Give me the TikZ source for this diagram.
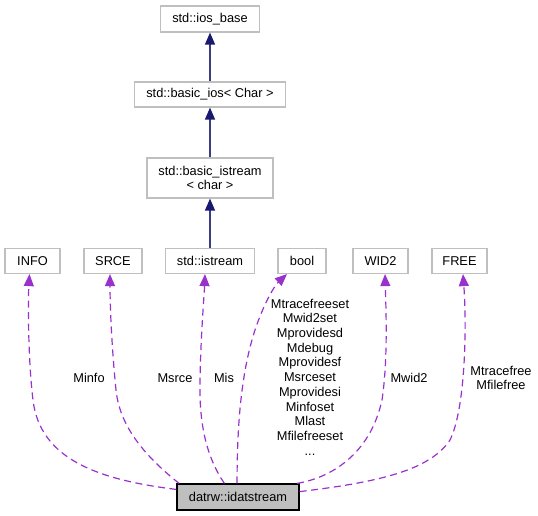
\documentclass[tikz,border=0pt]{standalone}
\usepackage{fontspec}
\setmainfont{Liberation Sans}
\usepackage{tikz}
\usetikzlibrary{arrows.meta}

\definecolor{boxgray}{RGB}{191,191,191}
\definecolor{navyline}{RGB}{25,25,112}
\definecolor{orchid}{RGB}{153,50,205}

\begin{document}
\begin{tikzpicture}[x=1pt,y=-1pt,
	font=\fontsize{12.8}{14.7}\selectfont,
	classbox/.style={draw=boxgray,line width=1.2pt,inner sep=0pt,minimum height=25pt,align=center},
	mainbox/.style={draw=black,fill=boxgray,line width=1.2pt,inner sep=0pt,minimum width=122pt,minimum height=26pt},
	inherit/.style={draw=navyline!85,line width=1.3pt,-{Triangle[length=12pt,width=10pt,color=navyline,fill=navyline]}},
	member/.style={draw=orchid,line width=1.2pt,dash pattern=on 7pt off 4.5pt,-{Triangle[length=12pt,width=10pt,fill=orchid]}}]
	\useasboundingbox (0,0) rectangle (538,516);
	\begin{scope}[every node/.style={classbox}]
		\node (iosbase) at (210,19) [minimum width=99pt,minimum height=26pt] {std::ios\_base};
		\node (basicios) at (210,94.5) [minimum width=151pt] {std::basic\_ios< Char >};
		\node (basicistream) at (210,178) [minimum width=126pt,minimum height=40pt] {std::basic\_istream\\< char >};
		\node (info) at (32.5,261) [minimum width=55pt] {INFO};
		\node (srce) at (113,261) [minimum width=58pt] {SRCE};
		\node (istream) at (210,261) [minimum width=89pt] {std::istream};
		\node (bool) at (302,261) [minimum width=48pt] {bool};
		\node (wid2) at (380.5,261) [minimum width=55pt] {WID2};
		\node (free) at (459.5,261) [minimum width=55pt] {FREE};
	\end{scope}
	\node[mainbox] (main) at (238,497) {datrw::idatstream};

	\begin{scope}[every edge/.style={inherit}]
		\path (basicios) edge (iosbase);
		\path (basicistream) edge (basicios);
		\path (istream) edge (basicistream);
	\end{scope}

	\begin{scope}[every path/.style={member}]
		\path (main.173) .. controls (100,480) and (40,460) .. (33,400)
			.. controls (28,360) and (28,300) .. ([xshift=-3pt]info.south);
		\path (main.167) .. controls (150,460) and (120,430) .. (116,390)
			.. controls (111,340) and (110,300) .. ([xshift=-3pt]srce.south);
		\path (main.135) .. controls (205,455) and (199,420) .. (200,380)
			.. controls (201,330) and (204,300) .. ([xshift=-5pt]istream.south);
		\path (main.94) .. controls (237,420) and (242,370) .. (255,330)
			.. controls (264,303) and (275,285) .. ([xshift=-15pt]bool.south);
		\path (main.13) .. controls (330,478) and (370,455) .. (382,400)
			.. controls (388,360) and (386,310) .. ([xshift=4.5pt]wid2.south);
		\path (main.5) .. controls (380,482) and (430,470) .. (450,440)
			.. controls (465,410) and (467,330) .. ([xshift=3.5pt]free.south);
	\end{scope}

	\node (minfo) at (89,378) {Minfo};
	\node (msrce) at (175,378) {Msrce};
	\node (mis) at (224,378) {Mis};
	\node[align=center] (mbool) at (310,377) {Mtracefreeset\\Mwid2set\\Mprovidesd\\Mdebug\\Mprovidesf\\Msrceset\\Mprovidesi\\Minfoset\\Mlast\\Mfilefreeset\\...};
	\node (mwid2) at (409,378) {Mwid2};
	\node[align=center] (mfree) at (501,378) {Mtracefree\\Mfilefree};
\end{tikzpicture}
\end{document}
